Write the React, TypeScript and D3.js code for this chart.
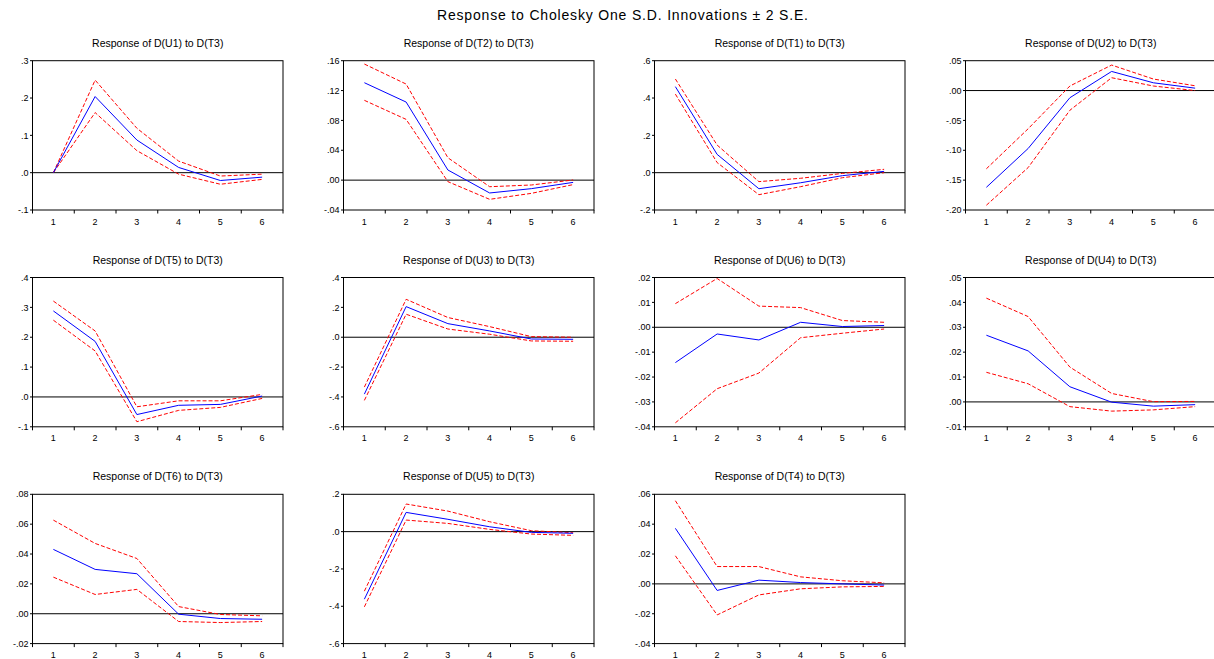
import React from "react";
import * as d3 from "d3";

const periods = [1, 2, 3, 4, 5, 6];

const mainTitle = "Response to Cholesky One S.D. Innovations \u00b1 2 S.E.";

const panelTitles = [
  "Response of D(U1) to D(T3)",
  "Response of D(T2) to D(T3)",
  "Response of D(T1) to D(T3)",
  "Response of D(U2) to D(T3)",
  "Response of D(T5) to D(T3)",
  "Response of D(U3) to D(T3)",
  "Response of D(U6) to D(T3)",
  "Response of D(U4) to D(T3)",
  "Response of D(T6) to D(T3)",
  "Response of D(U5) to D(T3)",
  "Response of D(T4) to D(T3)",
];

const ticksU1 = [-0.1, 0, 0.1, 0.2, 0.3];
const ticksT2 = [-0.04, 0, 0.04, 0.08, 0.12, 0.16];
const ticksT1 = [-0.2, 0, 0.2, 0.4, 0.6];
const ticksU2 = [-0.2, -0.15, -0.1, -0.05, 0, 0.05];
const ticksT5 = [-0.1, 0, 0.1, 0.2, 0.3, 0.4];
const ticksU3 = [-0.6, -0.4, -0.2, 0, 0.2, 0.4];
const ticksU6 = [-0.04, -0.03, -0.02, -0.01, 0, 0.01, 0.02];
const ticksU4 = [-0.01, 0, 0.01, 0.02, 0.03, 0.04, 0.05];
const ticksT6 = [-0.02, 0, 0.02, 0.04, 0.06, 0.08];
const ticksU5 = [-0.6, -0.4, -0.2, 0, 0.2];
const ticksT4 = [-0.04, -0.02, 0, 0.02, 0.04, 0.06];

const tickDecimals = [1, 2, 1, 2, 1, 1, 2, 2, 2, 1, 2];

// responses (blue), upper band, lower band
const respU1 = [0, 0.204, 0.0875, 0.014, -0.021, -0.012];
const upU1 = [0, 0.248, 0.119, 0.031, -0.009, -0.004];
const loU1 = [0, 0.161, 0.059, -0.004, -0.031, -0.018];

const respT2 = [0.1305, 0.1046, 0.0136, -0.0172, -0.0114, -0.003];
const upT2 = [0.1555, 0.1287, 0.03, -0.0088, -0.0065, 0.0002];
const loT2 = [0.1069, 0.0814, -0.002, -0.0257, -0.0177, -0.006];

const respT1 = [0.461, 0.098, -0.086, -0.054, -0.016, 0.007];
const upT1 = [0.502, 0.148, -0.048, -0.03, -0.004, 0.018];
const loT1 = [0.421, 0.054, -0.118, -0.075, -0.027, 0.0];

const respU2 = [-0.162, -0.097, -0.012, 0.032, 0.013, 0.004];
const upU2 = [-0.131, -0.064, 0.0076, 0.0427, 0.0193, 0.008];
const loU2 = [-0.192, -0.129, -0.033, 0.0215, 0.0076, 0.0];

const respT5 = [0.288, 0.186, -0.059, -0.028, -0.025, 0.003];
const upT5 = [0.321, 0.221, -0.033, -0.013, -0.013, 0.0085];
const loT5 = [0.257, 0.154, -0.083, -0.045, -0.035, -0.005];

const respU3 = [-0.381, 0.205, 0.091, 0.042, -0.012, -0.014];
const upU3 = [-0.334, 0.254, 0.132, 0.071, 0.004, 0.0];
const loU3 = [-0.423, 0.154, 0.055, 0.02, -0.025, -0.027];

const respU6 = [-0.0142, -0.0027, -0.0051, 0.002, 0.0003, 0.0007];
const upU6 = [0.0095, 0.0196, 0.0085, 0.0079, 0.0027, 0.002];
const loU6 = [-0.0384, -0.0247, -0.0184, -0.0042, -0.0024, -0.0007];

const respU4 = [0.0268, 0.0205, 0.0061, -0.0001, -0.0017, -0.0011];
const upU4 = [0.0417, 0.0343, 0.014, 0.0034, 0.0001, 0.0002];
const loU4 = [0.0119, 0.0073, -0.0019, -0.0037, -0.0032, -0.0019];

const respT6 = [0.0431, 0.0297, 0.0268, -0.0003, -0.0032, -0.0037];
const upT6 = [0.0627, 0.0471, 0.037, 0.0048, -0.0005, -0.0014];
const loT6 = [0.0245, 0.0129, 0.0163, -0.0052, -0.0059, -0.0052];

const respU5 = [-0.362, 0.103, 0.066, 0.026, -0.004, -0.009];
const upU5 = [-0.319, 0.148, 0.11, 0.053, 0.005, -0.006];
const loU5 = [-0.403, 0.062, 0.044, 0.012, -0.013, -0.02];

const respT4 = [0.0372, -0.0044, 0.0025, 0.0009, 0.0, -0.0008];
const upT4 = [0.0557, 0.0116, 0.0116, 0.0047, 0.0021, 0.0007];
const loT4 = [0.0188, -0.0208, -0.0074, -0.0033, -0.002, -0.0017];

const panels = [
  { ticks: ticksU1, resp: respU1, up: upU1, lo: loU1 },
  { ticks: ticksT2, resp: respT2, up: upT2, lo: loT2 },
  { ticks: ticksT1, resp: respT1, up: upT1, lo: loT1 },
  { ticks: ticksU2, resp: respU2, up: upU2, lo: loU2 },
  { ticks: ticksT5, resp: respT5, up: upT5, lo: loT5 },
  { ticks: ticksU3, resp: respU3, up: upU3, lo: loU3 },
  { ticks: ticksU6, resp: respU6, up: upU6, lo: loU6 },
  { ticks: ticksU4, resp: respU4, up: upU4, lo: loU4 },
  { ticks: ticksT6, resp: respT6, up: upT6, lo: loT6 },
  { ticks: ticksU5, resp: respU5, up: upU5, lo: loU5 },
  { ticks: ticksT4, resp: respT4, up: upT4, lo: loT4 },
].map((p, i) => ({ ...p, title: panelTitles[i], dec: tickDecimals[i] }));

const W = 1214;
const H = 659;
const FONT = "'Liberation Sans', Arial, Helvetica, sans-serif";

const colLeft = (c: number) => 32.5 + 311 * c;
const rowTop = (r: number) => 60.7 + 216.8 * r;
const PW = 250.5;
const PH = 149.3;

function fmt(v: number, d: number) {
  const s = v.toFixed(d);
  return s.replace(/^(-?)0\./, "$1.");
}

function Panel({ p, idx }: { p: any; idx: number }) {
  const c = idx % 4;
  const r = Math.floor(idx / 4);
  const left = colLeft(c);
  const top = rowTop(r);
  const right = left + PW;
  const bottom = top + PH;
  const x = d3.scaleBand<number>().domain(periods).range([left, right]);
  const xc = (d: number) => (x(d) as number) + x.bandwidth() / 2;
  const y = d3
    .scaleLinear()
    .domain([p.ticks[0], p.ticks[p.ticks.length - 1]])
    .range([bottom, top]);
  const line = d3
    .line<number>()
    .x((_, i) => xc(periods[i]))
    .y((v) => y(v));
  const bounds = periods.map((d) => x(d) as number).concat([right]);
  const clipId = `clip${idx}`;
  return (
    <g>
      <defs>
        <clipPath id={clipId}>
          <rect x={left} y={top} width={PW} height={PH} />
        </clipPath>
      </defs>
      <text
        x={(left + right) / 2}
        y={top - 14}
        textAnchor="middle"
        fontSize={10.5}
        fontFamily={FONT}
        fill="#000"
      >
        {p.title}
      </text>
      <g clipPath={`url(#${clipId})`}>
        <line x1={left} x2={right} y1={y(0)} y2={y(0)} stroke="#000" strokeWidth={1} />
        <path d={line(p.up) || ""} fill="none" stroke="#ff0000" strokeWidth={1} strokeDasharray="4,2" />
        <path d={line(p.lo) || ""} fill="none" stroke="#ff0000" strokeWidth={1} strokeDasharray="4,2" />
        <path d={line(p.resp) || ""} fill="none" stroke="#0000ff" strokeWidth={1} />
      </g>
      <rect x={left} y={top} width={PW} height={PH} fill="none" stroke="#000" strokeWidth={1} />
      {p.ticks.map((t: number) => (
        <g key={t}>
          <line x1={left - 2.5} x2={left} y1={y(t)} y2={y(t)} stroke="#000" />
          <text
            x={left - 4}
            y={y(t)}
            dy="0.35em"
            textAnchor="end"
            fontSize={9}
            fontFamily={FONT}
            fill="#000"
          >
            {fmt(t, p.dec)}
          </text>
        </g>
      ))}
      {bounds.map((b: number, i: number) => (
        <line key={i} x1={b} x2={b} y1={bottom} y2={bottom + 3.5} stroke="#000" />
      ))}
      {periods.map((d) => (
        <text
          key={d}
          x={xc(d)}
          y={bottom + 14.5}
          textAnchor="middle"
          fontSize={9}
          fontFamily={FONT}
          fill="#000"
        >
          {d}
        </text>
      ))}
    </g>
  );
}

export default function App() {
  return (
    <svg
      width={W}
      height={H}
      style={{ position: "absolute", left: 0, top: 0, background: "#fff" }}
    >
      <rect x={0} y={0} width={W} height={H} fill="#fff" />
      <text
        x={622.5}
        y={20}
        textAnchor="middle"
        fontSize={14}
        fontFamily={FONT}
        fill="#000"
        textLength={371}
        lengthAdjust="spacing"
      >
        {mainTitle}
      </text>
      {panels.map((p, i) => (
        <Panel key={i} p={p} idx={i} />
      ))}
    </svg>
  );
}
